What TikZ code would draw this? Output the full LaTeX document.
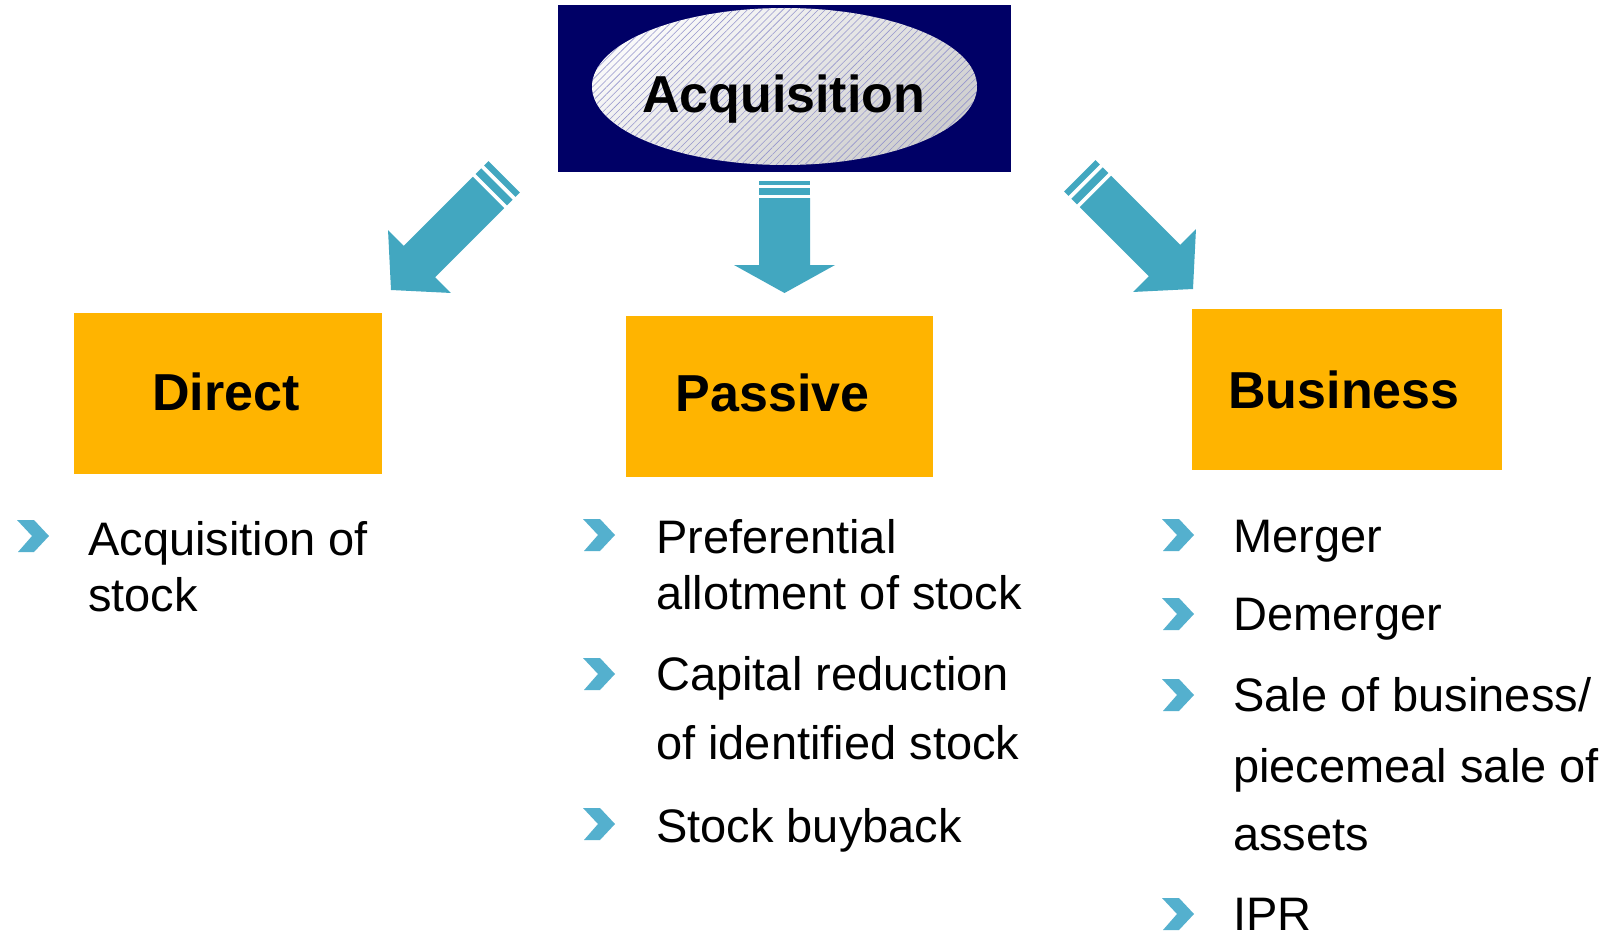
\documentclass[tikz,border=0pt]{standalone}
\usepackage{fontspec}
\setmainfont{Liberation Sans}
\usetikzlibrary{patterns.meta,shapes.geometric}
\definecolor{navy}{RGB}{0,0,102}
\definecolor{gold}{RGB}{255,180,0}
\definecolor{arrowblue}{RGB}{66,167,192}
\definecolor{chevblue}{RGB}{84,176,206}
\definecolor{hatch}{RGB}{150,150,205}
\newcommand{\blockarr}[8]{%
  \fill[arrowblue] (0,0) -- (-#2,-#1) -- (-#3,-#1) -- (-#3,-#4) -- (#3,-#4) -- (#3,-#1) -- (#2,-#1) -- cycle;
  \fill[arrowblue] (-#3,-#5) rectangle (#3,-#6);
  \fill[arrowblue] (-#3,-#7) rectangle (#3,-#8);}
\tikzset{
  bulletchev/.pic={\fill[chevblue] (0,-16) -- (17,-16) -- (32,0) -- (17,16) -- (1,16) -- (15,0) -- cycle;},
  orangebox/.style={rectangle, fill=gold, draw=none, inner sep=0pt, minimum height=161pt},
  boxlabel/.style={font=\fontsize{52}{60}\selectfont\bfseries, anchor=base, inner sep=0pt},
  itemtext/.style={font=\fontsize{47}{56}\selectfont, anchor=base west, inner sep=0pt},
}
\begin{document}
\begin{tikzpicture}[x=1pt,y=-1pt]
\useasboundingbox[fill=white] (0,0) rectangle (1620,934);

% top block
\node[rectangle, fill=navy, inner sep=0pt, minimum width=453pt, minimum height=167pt] (top) at (784.5,88.5) {};
\node[ellipse, inner sep=0pt, minimum width=385pt, minimum height=157pt,
      top color=gray!4, bottom color=gray!38, shading angle=35,
      postaction={pattern={Lines[angle=45,distance=5pt,line width=0.6pt]}, pattern color=hatch}] (ell) at (784.5,86.5) {};
\node[boxlabel] (acq) at (783.7,112) {Acquisition};

% arrows
\begin{scope}[shift={(784.5,293)}]
  \blockarr{28}{50.5}{25.5}{95}{98}{105}{108}{112}
\end{scope}
\begin{scope}[shift={(391,290)}, rotate=-45]
  \blockarr{40.3}{44.5}{22.2}{137.9}{141.9}{149.9}{153.9}{160}
\end{scope}
\begin{scope}[shift={(1193,289)}, rotate=45]
  \blockarr{40.3}{44.5}{22.2}{137.9}{141.9}{149.9}{153.9}{160}
\end{scope}

% orange boxes
\node[orangebox, minimum width=308pt] (direct) at (228,393.5) {};
\node[boxlabel] (directlbl) at (226,410) {Direct};
\node[orangebox, minimum width=307pt] (passive) at (779.5,396.5) {};
\node[boxlabel] (passivelbl) at (772.5,411) {Passive};
\node[orangebox, minimum width=310pt] (business) at (1347,389.5) {};
\node[boxlabel] (businesslbl) at (1344,408) {Business};

% Direct items
\pic at (17,536) {bulletchev};
\node[itemtext] (d1) at (88,555) {Acquisition of};
\node[itemtext] (d2) at (88,611) {stock};

% Passive items
\pic at (583,535) {bulletchev};
\node[itemtext] (p1) at (656,553) {Preferential};
\node[itemtext] (p2) at (656,609) {allotment of stock};
\pic at (583,674) {bulletchev};
\node[itemtext] (p3) at (656,690) {Capital reduction};
\node[itemtext] (p4) at (656,759) {of identified stock};
\pic at (583,824) {bulletchev};
\node[itemtext] (p5) at (656,842) {Stock buyback};

% Business items
\pic at (1162,535) {bulletchev};
\node[itemtext] (b1) at (1233,552) {Merger};
\pic at (1162,614) {bulletchev};
\node[itemtext] (b2) at (1233,630) {Demerger};
\pic at (1162,695) {bulletchev};
\node[itemtext] (b3) at (1233,711) {Sale of business/};
\node[itemtext] (b4) at (1233,782) {piecemeal sale of};
\node[itemtext] (b5) at (1233,850) {assets};
\pic at (1162,914) {bulletchev};
\node[itemtext] (b6) at (1233,930) {IPR};
\end{tikzpicture}
\end{document}
